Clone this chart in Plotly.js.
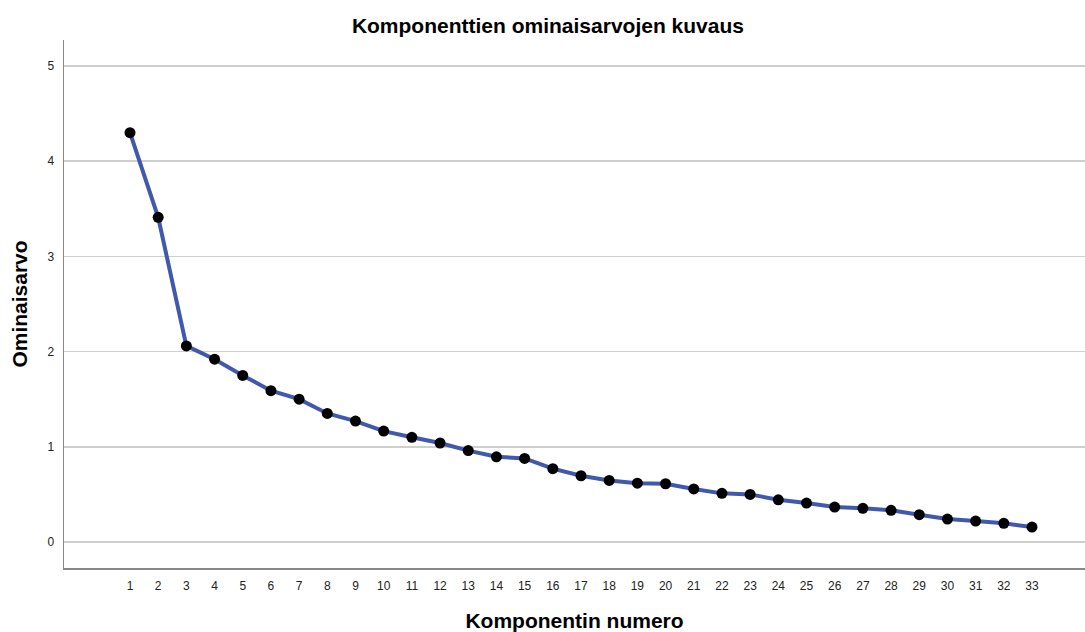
<!DOCTYPE html>
<html>
<head>
<meta charset="utf-8">
<script src="https://cdn.plot.ly/plotly-3.0.1.min.js"></script>
<style>html,body{margin:0;padding:0;background:#fff;}#chart{width:1085px;height:632px;}</style>
</head>
<body>
<div id="chart"></div>
<script>
const components = [1,2,3,4,5,6,7,8,9,10,11,12,13,14,15,16,17,18,19,20,21,22,23,24,25,26,27,28,29,30,31,32,33];
const eigenvalues = [4.30,3.41,2.06,1.92,1.75,1.59,1.50,1.35,1.27,1.165,1.10,1.04,0.96,0.895,0.878,0.77,0.696,0.647,0.618,0.612,0.557,0.511,0.50,0.443,0.409,0.367,0.354,0.333,0.287,0.241,0.220,0.196,0.157];
const xTickLabels = components.map(String);
const yTicks = [0,1,2,3,4,5];

const trace = {
  x: components, y: eigenvalues, type: 'scatter', mode: 'lines+markers',
  line: {color: '#4059AD', width: 4},
  marker: {color: '#000000', size: 11},
  hoverinfo: 'x+y'
};
const font = 'Liberation Sans, Arial, sans-serif';
const layout = {
  width: 1085, height: 632,
  margin: {l: 64, r: 0, t: 40, b: 64},
  paper_bgcolor: '#fff', plot_bgcolor: '#fff',
  showlegend: false,
  font: {family: font, color: '#222', size: 12},
  title: {text: 'Komponenttien ominaisarvojen kuvaus', font: {family: font, size: 21, color: '#000', weight: 'bold'}, x: 0.505, xref: 'container', xanchor: 'center', y: 0.959, yref: 'container', yanchor: 'middle'},
  xaxis: {
    range: [-1.341, 34.88], tickmode: 'array', tickvals: components, ticktext: xTickLabels,
    showgrid: false, zeroline: false, showline: true, linecolor: '#888', linewidth: 1.5,
    ticks: '', tickfont: {size: 12, color: '#222'}, ticklabelstandoff: 6,
    title: {text: 'Komponentin numero', font: {family: font, size: 21, color: '#000', weight: 'bold'}, standoff: 21}
  },
  yaxis: {
    range: [-0.273, 5.273], tickmode: 'array', tickvals: yTicks,
    showgrid: true, gridcolor: '#cfcfcf', gridwidth: 1.5, zeroline: false,
    showline: true, linecolor: '#888', linewidth: 1.5, ticks: '', tickfont: {size: 12, color: '#222'},
    ticklabelstandoff: 6,
    title: {text: 'Ominaisarvo', font: {family: font, size: 21, color: '#000', weight: 'bold'}, standoff: 14}
  }
};
Plotly.newPlot('chart', [trace], layout, {displayModeBar: false, staticPlot: true});
</script>
</body>
</html>
